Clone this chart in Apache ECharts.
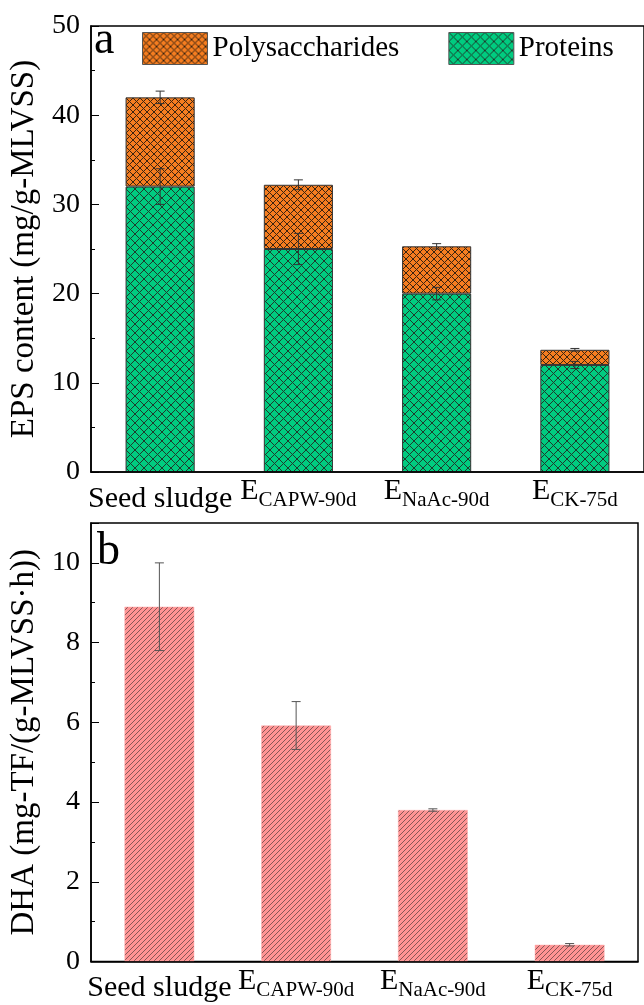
<!DOCTYPE html>
<html>
<head>
<meta charset="utf-8">
<script src="https://cdn.jsdelivr.net/npm/echarts@6/dist/echarts.min.js"></script>
<style>html,body{margin:0;padding:0;background:#fff;}#c{width:644px;height:1005px;}</style>
</head>
<body>
<div id="c"></div>
<script>
// ---- data ----
const catMain = ['Seed sludge', 'E', 'E', 'E'];
const catSub = ['', 'CAPW-90d', 'NaAc-90d', 'CK-75d'];
const proteins = [32, 25, 20, 12];
const proteinsErr = [2.0, 1.75, 0.7, 0.4];
const polysaccharides = [10, 7.2, 5.3, 1.7];
const totalErr = [0.7, 0.55, 0.3, 0.15];
const dha = [8.9, 5.92, 3.8, 0.42];
const dhaErr = [1.1, 0.6, 0.03, 0.03];
const epsTicks = [0, 10, 20, 30, 40, 50];
const dhaTicks = [0, 2, 4, 6, 8, 10];

const FONT = 'Liberation Serif';

function crossHatch(bg, size, line, lw) {
  const c = document.createElement('canvas');
  c.width = c.height = size;
  const g = c.getContext('2d');
  g.fillStyle = bg; g.fillRect(0, 0, size, size);
  g.strokeStyle = line; g.lineWidth = lw;
  g.beginPath();
  g.moveTo(0, 0); g.lineTo(size, size);
  g.moveTo(size, 0); g.lineTo(0, size);
  g.stroke();
  return c;
}
function diagHatch(bg, size, line, lw) {
  const c = document.createElement('canvas');
  c.width = c.height = size;
  const g = c.getContext('2d');
  g.fillStyle = bg; g.fillRect(0, 0, size, size);
  g.strokeStyle = line; g.lineWidth = lw;
  g.beginPath();
  g.moveTo(-1, size + 1); g.lineTo(size + 1, -1);
  g.moveTo(-1, 1); g.lineTo(1, -1);
  g.moveTo(size - 1, size + 1); g.lineTo(size + 1, size - 1);
  g.stroke();
  return c;
}
const greenPat = { image: crossHatch('#00CC80', 9, '#1f3a2c', 1), repeat: 'repeat' };
const orangePat = { image: crossHatch('#F57D20', 7, '#3a2410', 1), repeat: 'repeat' };
const pinkPat = { image: diagHatch('#FF9494', 5, '#6a4848', 0.8), repeat: 'repeat' };

const rich = {
  m: { fontFamily: FONT, fontSize: 30, color: '#000', lineHeight: 30, padding: [0, 0, 9, 0] },
  s: { fontFamily: FONT, fontSize: 21, color: '#000', lineHeight: 21, verticalAlign: 'bottom' },
  seed: { fontFamily: FONT, fontSize: 30, color: '#000', lineHeight: 30, padding: [6, 0, 0, 0] }
};
function catFmt(v, i) {
  if (!catSub[i]) return '{seed|' + catMain[i] + '}';
  return '{m|' + catMain[i] + '}{s|' + catSub[i] + '}';
}

function errItem(color) {
  return function (params, api) {
    const x = api.value(0), v = api.value(1), e = api.value(2);
    const hi = api.coord([x, v + e]);
    const lo = api.coord([x, v - e]);
    const h = 4.5;
    const st = { stroke: color, lineWidth: 1 };
    return {
      type: 'group',
      children: [
        { type: 'line', shape: { x1: hi[0], y1: hi[1], x2: lo[0], y2: lo[1] }, style: st },
        { type: 'line', shape: { x1: hi[0] - h, y1: hi[1], x2: hi[0] + h, y2: hi[1] }, style: st },
        { type: 'line', shape: { x1: lo[0] - h, y1: lo[1], x2: lo[0] + h, y2: lo[1] }, style: st }
      ]
    };
  };
}

const cats = catMain.map((m, i) => 'c' + i);

function xAxisDef(gi) {
  return {
    type: 'category', gridIndex: gi, data: cats, z: 10,
    axisLine: { lineStyle: { color: '#000', width: 1.5 } },
    axisTick: { inside: true, alignWithLabel: true, length: 7, lineStyle: { color: '#000', width: 1 } },
    axisLabel: { formatter: catFmt, rich: rich, margin: 9, interval: 0 }
  };
}
function yAxisDef(gi, max, interval, name, ticks) {
  return {
    type: 'value', gridIndex: gi, min: 0, max: max, interval: interval, z: 10,
    name: name, nameLocation: 'middle', nameGap: 50,
    nameTextStyle: { fontFamily: FONT, fontSize: 33, color: '#000' },
    axisLine: { show: true, lineStyle: { color: '#000', width: 1.5 } },
    axisTick: { show: true, inside: true, length: 8, lineStyle: { color: '#000', width: 1 } },
    minorTick: { show: true, splitNumber: 2, length: 4, lineStyle: { color: '#000', width: 1 } },
    splitLine: { show: false },
    axisLabel: {
      fontFamily: FONT, fontSize: 28, color: '#000', margin: 11,
      formatter: v => (ticks.indexOf(v) >= 0 ? String(v) : '')
    }
  };
}

const chart = echarts.init(document.getElementById('c'), null, { renderer: 'canvas' });
chart.setOption({
  animation: false,
  backgroundColor: '#fff',
  grid: [
    { left: 90, top: 26, width: 555, height: 446, show: true, borderColor: '#000', borderWidth: 1.5, backgroundColor: 'transparent' },
    { left: 89, top: 523, width: 549, height: 444, show: true, borderColor: '#000', borderWidth: 1.5, backgroundColor: 'transparent' }
  ],
  legend: {
    data: ['Polysaccharides', 'Proteins'],
    left: 142, top: 32, padding: 0, itemWidth: 65, itemHeight: 32, itemGap: 49,
    icon: 'rect',
    textStyle: { fontFamily: FONT, fontSize: 29, color: '#000' },
    itemStyle: { borderColor: '#555', borderWidth: 1 }
  },
  xAxis: [xAxisDef(0), xAxisDef(1)],
  yAxis: [
    yAxisDef(0, 50, 10, 'EPS content (mg/g-MLVSS)', epsTicks),
    yAxisDef(1, 11, 2, 'DHA (mg-TF/(g-MLVSS·h))', dhaTicks)
  ],
  graphic: [
    { type: 'text', left: 94, top: 18, style: { text: 'a', font: '46px "Liberation Serif"', fill: '#000' } },
    { type: 'text', left: 97, top: 529, style: { text: 'b', font: '46px "Liberation Serif"', fill: '#000' } }
  ],
  series: [
    {
      name: 'Proteins', type: 'bar', stack: 'eps', xAxisIndex: 0, yAxisIndex: 0, barWidth: '50%',
      data: proteins, itemStyle: { color: greenPat, borderColor: '#333', borderWidth: 1 }
    },
    {
      name: 'Polysaccharides', type: 'bar', stack: 'eps', xAxisIndex: 0, yAxisIndex: 0, barWidth: '50%',
      data: polysaccharides, itemStyle: { color: orangePat, borderColor: '#333', borderWidth: 1 }
    },
    {
      type: 'custom', xAxisIndex: 0, yAxisIndex: 0, z: 5, renderItem: errItem('#333'),
      data: proteins.map((v, i) => [i, v, proteinsErr[i]])
    },
    {
      type: 'custom', xAxisIndex: 0, yAxisIndex: 0, z: 5, renderItem: errItem('#333'),
      data: proteins.map((v, i) => [i, v + polysaccharides[i], totalErr[i]])
    },
    {
      name: 'DHA', type: 'bar', xAxisIndex: 1, yAxisIndex: 1, barWidth: '51%',
      data: dha, itemStyle: { color: pinkPat, borderColor: '#ffb0b0', borderWidth: 0.5 }
    },
    {
      type: 'custom', xAxisIndex: 1, yAxisIndex: 1, z: 5, renderItem: errItem('#555'),
      data: dha.map((v, i) => [i, v, dhaErr[i]])
    }
  ]
});
</script>
</body>
</html>
